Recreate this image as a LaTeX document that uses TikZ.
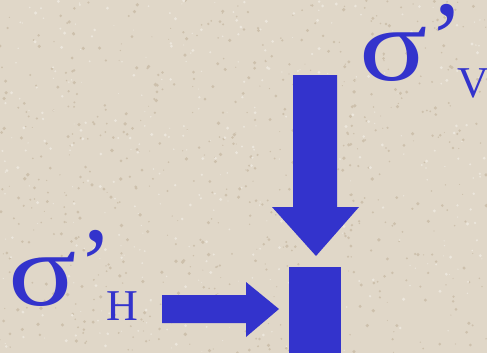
\documentclass[tikz,border=0pt]{standalone}
\usepackage{fontspec}
\setmainfont{Liberation Serif}
\definecolor{bg}{RGB}{224,215,200}
\definecolor{speckdark}{RGB}{205,192,172}
\definecolor{specklight}{RGB}{236,230,220}
\definecolor{stressblue}{RGB}{51,51,204}
\begin{document}
\begin{tikzpicture}[x=1pt,y=-1pt,
  shapefill/.style={fill=stressblue,draw=none},
  bigsym/.style={text=stressblue,inner sep=0pt,anchor=base west,font=\fontsize{104}{104}\selectfont},
  sigsym/.style={bigsym,xscale=1.22},
  subsym/.style={text=stressblue,inner sep=0pt,anchor=base west,font=\fontsize{44}{44}\selectfont}]
\fill[bg] (0,0) rectangle (487,353);
\useasboundingbox (0,0) rectangle (487,353);
% background texture
\pgfmathsetseed{7}
\foreach \i in {1,...,700}{
  \pgfmathsetmacro{\px}{rnd*487}
  \pgfmathsetmacro{\py}{rnd*353}
  \pgfmathsetmacro{\pr}{0.5+rnd*1.4}
  \fill[speckdark] (\px,\py) circle[radius=\pr];
}
\foreach \i in {1,...,400}{
  \pgfmathsetmacro{\px}{rnd*487}
  \pgfmathsetmacro{\py}{rnd*353}
  \pgfmathsetmacro{\pr}{0.5+rnd*1.2}
  \fill[specklight] (\px,\py) circle[radius=\pr];
}
% vertical arrow
\fill[shapefill] (293,75) -- (337,75) -- (337,207) -- (359,207) -- (316,256) -- (272,207) -- (293,207) -- cycle;
% horizontal arrow
\fill[shapefill] (162,295) -- (246,295) -- (246,282) -- (279,309) -- (246,337) -- (246,323) -- (162,323) -- cycle;
% element
\fill[shapefill] (289,267) rectangle (341,353);
% labels
\node[sigsym] (sv) at (359,81) {σ};
\node[bigsym] (pv) at (429,74) {’};
\node[subsym] (v) at (457,97) {V};
\node[sigsym] (sh) at (8,305) {σ};
\node[bigsym] (ph) at (78,299) {’};
\node[subsym] (h) at (106,320) {H};
\end{tikzpicture}
\end{document}
